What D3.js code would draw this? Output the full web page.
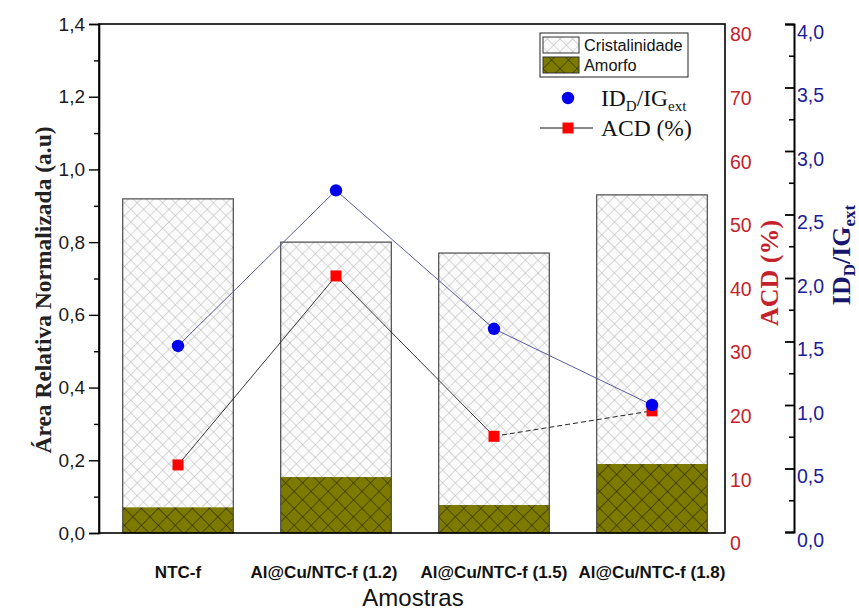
<!DOCTYPE html>
<html>
<head>
<meta charset="utf-8">
<script src="https://cdn.jsdelivr.net/npm/d3@7"></script>
<style>
  body { margin: 0; background: #fff; }
  svg { display: block; font-family: 'Liberation Sans', Arial, sans-serif; }
</style>
</head>
<body>
<div class="chartHolder"></div>
<script>
const samples = ['NTC-f', 'Al@Cu/NTC-f (1.2)', 'Al@Cu/NTC-f (1.5)', 'Al@Cu/NTC-f (1.8)']
const amorfo = [0.071, 0.154, 0.077, 0.19]
const cristalinidade = [0.848, 0.646, 0.693, 0.74]
const acd = [10.7, 40.4, 15.2, 19.2]
const idig = [1.465, 2.69, 1.6, 1.0]
const leftTicks = [0, 0.2, 0.4, 0.6, 0.8, 1.0, 1.2, 1.4]
const acdTicks = [0, 10, 20, 30, 40, 50, 60, 70, 80]
const idigTicks = [0, 0.5, 1.0, 1.5, 2.0, 2.5, 3.0, 3.5, 4.0]

const render = () => {
  const width = 859
  const height = 612
  var margin = { top: 24, right: 134, bottom: 79, left: 99 }
  var plotW = width - margin.left - margin.right
  var plotH = height - margin.top - margin.bottom
  var red = '#c4222b'
  var blue = '#1c1c98'
  var serif = "'Liberation Serif', 'Times New Roman', serif"
  var comma = d => d3.format('.1f')(d).replace('.', ',')

  var svg = d3.select('.chartHolder').append('svg')
    .attr('width', width)
    .attr('height', height)

  var defs = svg.append('defs')
  defs.append('pattern')
    .attr('id', 'hatchCrist')
    .attr('patternUnits', 'userSpaceOnUse')
    .attr('width', 9).attr('height', 9)
    .attr('patternTransform', 'rotate(45)')
    .call(p => {
      p.append('rect').attr('width', 9).attr('height', 9).attr('fill', '#fbfbfb')
      p.append('path').attr('d', 'M0,0H9M0,0V9').attr('stroke', '#b4b4b4').attr('stroke-width', 1)
    })
  defs.append('pattern')
    .attr('id', 'hatchAmorfo')
    .attr('patternUnits', 'userSpaceOnUse')
    .attr('width', 12).attr('height', 12)
    .attr('patternTransform', 'rotate(45)')
    .call(p => {
      p.append('rect').attr('width', 12).attr('height', 12).attr('fill', '#7d7a00')
      p.append('path').attr('d', 'M0,0H12M0,0V12').attr('stroke', '#1a1a00').attr('stroke-width', 1)
    })

  var graph = svg.append('g')
    .attr('transform', `translate(${margin.left},${margin.top})`)

  var xScale = d3.scaleBand()
    .domain(samples)
    .range([0, 632])
  var barW = xScale.bandwidth() * 0.7
  var cx = d => xScale(d) + xScale.bandwidth() / 2

  var yLeft = d3.scaleLinear().domain([0, 1.4]).range([plotH, 0])
  var yAcd = d3.scaleLinear().domain([0, 80]).range([plotH, 0])
  var yId = d3.scaleLinear().domain([0, 4]).range([plotH - 1, 0])

  // bars: amorfo at the bottom, cristalinidade stacked on top
  graph.selectAll('.bar-am')
    .data(samples)
    .enter()
    .append('rect')
    .attr('class', 'bar-am')
    .attr('x', d => cx(d) - barW / 2)
    .attr('y', (d, i) => yLeft(amorfo[i]))
    .attr('width', barW)
    .attr('height', (d, i) => yLeft(0) - yLeft(amorfo[i]))
    .attr('fill', 'url(#hatchAmorfo)')
  graph.selectAll('.bar-cr')
    .data(samples)
    .enter()
    .append('rect')
    .attr('class', 'bar-cr')
    .attr('x', d => cx(d) - barW / 2)
    .attr('y', (d, i) => yLeft(amorfo[i] + cristalinidade[i]))
    .attr('width', barW)
    .attr('height', (d, i) => yLeft(amorfo[i]) - yLeft(amorfo[i] + cristalinidade[i]))
    .attr('fill', 'url(#hatchCrist)')
  graph.selectAll('.bar-out')
    .data(samples)
    .enter()
    .append('rect')
    .attr('x', d => cx(d) - barW / 2)
    .attr('y', (d, i) => yLeft(amorfo[i] + cristalinidade[i]))
    .attr('width', barW)
    .attr('height', (d, i) => yLeft(0) - yLeft(amorfo[i] + cristalinidade[i]))
    .attr('fill', 'none')
    .attr('stroke', '#4a4a4a')
    .attr('stroke-width', 1.2)

  // frame
  graph.append('rect')
    .attr('width', plotW).attr('height', plotH)
    .attr('fill', 'none').attr('stroke', '#000').attr('stroke-width', 1.6)

  // left axis
  var leftAxis = graph.append('g')
    .call(d3.axisLeft(yLeft).tickValues(leftTicks).tickFormat(comma).tickSize(10).tickPadding(4))
  graph.append('g')
    .call(d3.axisLeft(yLeft).tickValues(d3.range(1, 14, 2).map(d => d / 10)).tickFormat('').tickSize(5))
    .call(g => g.select('.domain').remove())
  graph.selectAll('.tick line').attr('stroke-width', 1.4)
  leftAxis.select('.domain').attr('stroke-width', 1.6)
  leftAxis.selectAll('text').style('font-size', '19px').attr('fill', '#1a1a1a')

  // ACD axis: labels only
  var acdAxis = graph.append('g')
    .attr('transform', `translate(${plotW},0)`)
    .call(d3.axisRight(yAcd).tickValues(acdTicks).tickSize(0).tickPadding(5))
  acdAxis.select('.domain').remove()
  acdAxis.selectAll('text').style('font-size', '19.5px').attr('fill', red).attr('dy', '0.86em')

  // ID/IG axis
  var idX = 695
  var idAxis = graph.append('g')
    .attr('transform', `translate(${idX},0)`)
    .call(d3.axisRight(yId).tickValues(idigTicks).tickFormat(comma).tickSizeInner(-9).tickSizeOuter(-9).tickPadding(3))
  graph.append('g')
    .attr('transform', `translate(${idX},0)`)
    .call(d3.axisRight(yId).tickValues(d3.range(1, 16, 2).map(d => d / 4)).tickFormat('').tickSize(-5))
    .call(g => g.select('.domain').remove())
    .selectAll('line').attr('stroke-width', 1.6)
  idAxis.select('.domain').attr('stroke-width', 2)
  idAxis.selectAll('line').attr('stroke-width', 1.8)
  idAxis.selectAll('text').style('font-size', '19.5px').attr('fill', blue).attr('dy', '0.74em')

  // ID/IG line and points
  var lineId = d3.line()
    .x((d, i) => cx(samples[i]))
    .y(d => yId(d))
  graph.append('path')
    .datum(idig)
    .attr('d', lineId)
    .attr('fill', 'none')
    .attr('stroke', '#5a5a9a')
    .attr('stroke-width', 1)

  // ACD line: solid, last segment dashed
  var lineAcd = d3.line()
    .x(d => cx(samples[d]))
    .y(d => yAcd(acd[d]))
  graph.append('path')
    .datum([0, 1, 2])
    .attr('d', lineAcd)
    .attr('fill', 'none')
    .attr('stroke', '#222')
    .attr('stroke-width', 0.9)
  graph.append('path')
    .datum([2, 3])
    .attr('d', lineAcd)
    .attr('fill', 'none')
    .attr('stroke', '#222')
    .attr('stroke-width', 1)
    .attr('stroke-dasharray', '5,3')

  graph.selectAll('.sq')
    .data(acd)
    .enter()
    .append('rect')
    .attr('class', 'sq')
    .attr('x', (d, i) => cx(samples[i]) - 5.5)
    .attr('y', d => yAcd(d) - 5.5)
    .attr('width', 11).attr('height', 11)
    .attr('fill', '#f00')
  graph.selectAll('.dot')
    .data(idig)
    .enter()
    .append('circle')
    .attr('class', 'dot')
    .attr('cx', (d, i) => cx(samples[i]))
    .attr('cy', d => yId(d))
    .attr('r', 6.2)
    .attr('fill', '#0000ee')

  // x labels
  graph.selectAll('.xlab')
    .data(samples)
    .enter()
    .append('text')
    .attr('x', (d, i) => cx(d) - (i == 1 ? 12 : 0))
    .attr('y', plotH + 45)
    .attr('text-anchor', 'middle')
    .style('font-size', '17px')
    .style('font-weight', 'bold')
    .attr('fill', '#111')
    .text(d => d)
  svg.append('text')
    .attr('x', 413).attr('y', 606)
    .attr('text-anchor', 'middle')
    .style('font-size', '24px')
    .attr('fill', '#111')
    .text('Amostras')

  // axis titles
  svg.append('text')
    .attr('transform', 'translate(51,290) rotate(-90)')
    .attr('text-anchor', 'middle')
    .style('font-family', serif)
    .style('font-weight', 'bold')
    .style('font-size', '23.5px')
    .attr('fill', '#222')
    .text('Área Relativa Normalizada (a.u)')
  svg.append('text')
    .attr('transform', 'translate(778,273) rotate(-90)')
    .attr('text-anchor', 'middle')
    .style('font-family', serif)
    .style('font-weight', 'bold')
    .style('font-size', '26px')
    .attr('fill', red)
    .text('ACD (%)')
  var blueTitle = svg.append('text')
    .attr('transform', 'translate(850,255) rotate(-90)')
    .attr('text-anchor', 'middle')
    .style('font-family', serif)
    .style('font-weight', 'bold')
    .style('font-size', '26px')
    .attr('fill', '#16166e')
  blueTitle.append('tspan').text('ID')
  blueTitle.append('tspan').attr('dy', 5).style('font-size', '17px').text('D')
  blueTitle.append('tspan').attr('dy', -5).text('/IG')
  blueTitle.append('tspan').attr('dy', 5).style('font-size', '17px').text('ext')

  // legend
  var leg = svg.append('g')
  leg.append('rect')
    .attr('x', 540).attr('y', 33).attr('width', 148).attr('height', 44)
    .attr('fill', '#fff').attr('stroke', '#222').attr('stroke-width', 1)
  var legItems = [['Cristalinidade', 'url(#hatchCrist)', 37], ['Amorfo', 'url(#hatchAmorfo)', 57]]
  legItems.forEach(function(item) {
    leg.append('rect')
      .attr('x', 543).attr('y', item[2]).attr('width', 36).attr('height', 16)
      .attr('fill', item[1]).attr('stroke', '#333').attr('stroke-width', 1)
    leg.append('text')
      .attr('x', 584).attr('y', item[2] + 14)
      .style('font-size', '16.3px')
      .attr('fill', '#111')
      .text(item[0])
  })
  leg.append('circle').attr('cx', 568).attr('cy', 98).attr('r', 6.2).attr('fill', '#0000ee')
  var t1 = leg.append('text')
    .attr('x', 601).attr('y', 106)
    .style('font-family', serif)
    .style('font-size', '23.5px')
    .attr('fill', '#111')
  t1.append('tspan').text('ID')
  t1.append('tspan').attr('dy', 5).style('font-size', '15px').text('D')
  t1.append('tspan').attr('dy', -5).text('/IG')
  t1.append('tspan').attr('dy', 5).style('font-size', '15px').text('ext')
  leg.append('line').attr('x1', 540).attr('x2', 593).attr('y1', 128).attr('y2', 128)
    .attr('stroke', '#111').attr('stroke-width', 1)
  leg.append('rect').attr('x', 562.5).attr('y', 122.5).attr('width', 11).attr('height', 11).attr('fill', '#f00')
  leg.append('text')
    .attr('x', 601).attr('y', 136)
    .style('font-family', serif)
    .style('font-size', '23.5px')
    .attr('fill', '#111')
    .text('ACD (%)')
}
render()
</script>
</body>
</html>
